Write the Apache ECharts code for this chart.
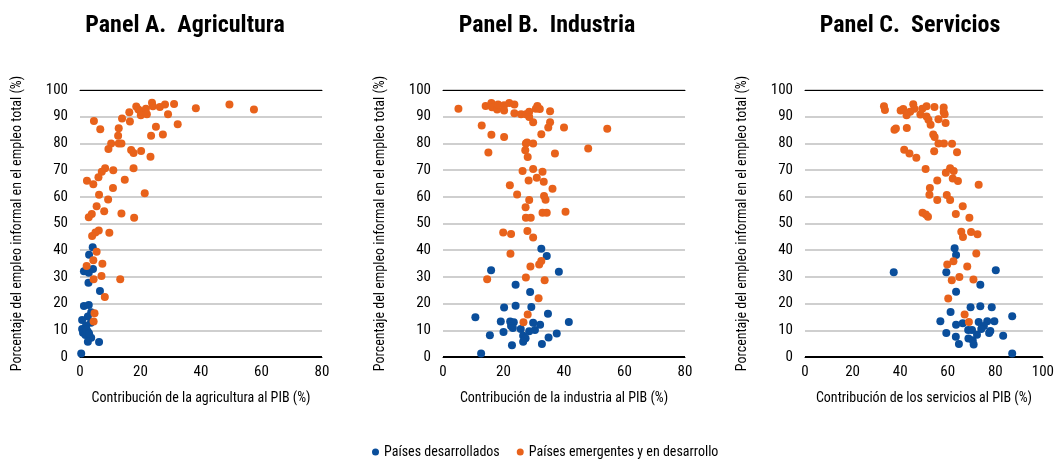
<!DOCTYPE html>
<html><head><meta charset="utf-8">
<script src="https://cdn.jsdelivr.net/npm/echarts@6/dist/echarts.min.js"></script>
<style>html,body{margin:0;padding:0;background:#fff}#c{width:1057px;height:465px}</style>
</head><body><div id="c"></div>
<script>
const panelTitles = ['Panel A.  Agricultura', 'Panel B.  Industria', 'Panel C.  Servicios'];
const xNames = ['Contribución de la agricultura al PIB (%)', 'Contribución de la industria al PIB (%)', 'Contribución de los servicios al PIB (%)'];
const yName = 'Porcentaje del empleo informal en el empleo total (%)';
const seriesNames = ['Países desarrollados', 'Países emergentes y en desarrollo'];
const xMax = [80, 80, 100];

const agriDev = [[4.2,41.1],[3.0,38.3],[1.3,32.1],[2.9,31.6],[4.3,33.0],[2.8,27.8],[6.6,24.7],[1.3,19.1],[2.9,19.5],[3.7,16.8],[2.6,15.2],[0.7,13.9],[3.6,12.8],[2.0,11.8],[0.7,10.5],[1.0,9.1],[2.6,9.5],[1.8,8.2],[3.7,7.2],[2.6,5.7],[6.3,5.6],[0.4,1.3],[2.2,10.2],[3.0,8.8]];
const agriEme = [[4.6,88.4],[6.7,85.3],[13.9,89.3],[16.5,88.2],[16.3,91.7],[18.6,93.8],[19.3,92.7],[20.1,92.0],[20.1,90.5],[21.8,93.0],[22.1,90.9],[23.8,95.2],[24.1,93.9],[26.4,93.6],[28.1,94.6],[29.1,90.9],[31.1,94.8],[32.3,87.2],[25.1,86.2],[23.5,82.9],[27.4,83.3],[38.3,93.2],[49.4,94.6],[57.5,92.7],[12.8,85.7],[12.6,82.9],[10.3,80.0],[9.4,77.9],[12.8,80.0],[13.7,80.0],[16.9,77.5],[17.7,76.4],[20.2,77.2],[23.3,75.0],[17.7,70.7],[8.3,70.7],[7.2,69.4],[11.0,69.9],[2.3,66.0],[6.1,67.3],[14.8,66.4],[4.4,64.7],[10.9,63.3],[21.4,61.3],[6.3,60.8],[9.3,59.0],[5.5,56.5],[8.0,54.6],[3.9,53.6],[2.9,52.3],[13.7,53.7],[17.9,52.2],[6.2,47.4],[5.1,46.6],[4.0,45.3],[9.7,46.5],[5.5,39.4],[4.4,36.2],[7.4,34.9],[2.2,34.1],[7.1,30.3],[4.5,29.1],[13.3,29.1],[8.2,22.5],[4.8,16.4],[4.5,13.3]];

const indDev = [[32.5,40.5],[34.3,37.8],[15.9,32.5],[38.3,31.9],[24.0,27.1],[28.8,24.3],[24.0,19.2],[20.2,18.5],[29.2,18.7],[34.7,16.2],[10.7,14.9],[19.1,13.3],[22.2,13.3],[23.4,13.0],[29.8,12.8],[32.1,12.1],[41.6,13.1],[22.5,11.6],[23.1,10.9],[25.7,10.5],[30.4,10.1],[28.5,9.6],[20.0,9.4],[37.6,8.8],[15.5,8.1],[26.5,8.0],[27.3,7.0],[34.9,7.3],[26.5,5.7],[32.7,4.9],[22.8,4.4],[12.6,1.3]];
const indEme = [[5.1,93.0],[14.1,94.0],[16.0,95.1],[16.2,93.5],[17.9,92.7],[18.2,94.6],[20.2,94.3],[20.2,92.3],[21.9,95.1],[23.6,94.6],[23.6,91.3],[25.8,90.9],[27.4,90.9],[28.5,91.9],[28.5,89.9],[29.8,87.9],[30.7,93.0],[31.2,94.0],[32.0,92.9],[35.4,92.0],[35.4,87.9],[34.8,86.0],[40.0,86.0],[54.3,85.5],[12.8,86.7],[16.0,83.2],[20.2,82.4],[32.5,83.4],[27.4,80.0],[27.8,80.3],[29.8,80.0],[15.0,76.6],[27.2,77.4],[37.0,76.2],[28.0,74.9],[48.0,78.1],[26.3,69.7],[29.8,70.4],[32.9,69.4],[28.3,66.1],[31.0,67.1],[33.3,65.6],[22.1,64.3],[36.2,63.0],[24.5,60.9],[33.4,60.3],[33.9,58.9],[28.5,58.8],[27.3,56.1],[27.4,52.2],[29.0,52.2],[32.9,54.0],[34.3,54.0],[40.5,54.4],[19.9,46.6],[22.5,46.1],[27.9,47.2],[29.8,44.8],[22.3,38.7],[32.5,36.0],[31.8,34.6],[28.9,33.9],[14.6,29.1],[27.4,29.8],[33.6,28.7],[31.6,22.0],[28.0,15.9],[26.6,13.0]];

const servDev = [[62.9,40.7],[63.5,38.2],[37.3,31.7],[59.4,31.7],[80.2,32.5],[73.7,27.1],[63.5,24.4],[61.2,16.9],[69.6,18.6],[73.7,19.0],[78.5,18.6],[87.1,15.3],[56.9,13.4],[63.5,12.1],[66.3,12.6],[73.0,13.1],[76.6,13.4],[79.6,13.4],[75.2,11.6],[74.1,10.5],[68.6,10.1],[70.2,10.1],[77.9,9.7],[77.4,9.0],[59.4,9.0],[63.4,7.6],[68.7,6.9],[70.5,6.3],[83.3,8.0],[72.3,8.3],[64.7,4.9],[70.9,4.7],[87.1,1.3]];
const servEme = [[33.2,93.9],[33.6,92.5],[40.2,92.3],[41.3,92.9],[45.5,94.7],[46.0,93.0],[44.2,91.9],[42.7,90.5],[48.5,90.8],[49.3,93.0],[51.1,93.9],[51.1,90.1],[51.9,88.9],[52.8,87.0],[54.4,93.6],[58.3,93.4],[58.3,91.8],[58.7,90.9],[56.1,89.0],[59.1,87.6],[37.6,85.1],[38.2,85.6],[42.8,85.8],[53.9,83.3],[54.5,82.4],[56.1,80.0],[58.4,80.0],[61.8,79.9],[63.9,76.7],[54.3,77.1],[41.7,77.6],[43.9,76.2],[46.8,74.6],[50.7,70.4],[61.0,70.7],[62.5,69.7],[59.2,69.0],[55.6,66.1],[62.1,66.9],[64.3,65.9],[73.0,64.5],[52.5,63.3],[52.3,60.8],[59.6,60.7],[61.0,58.8],[55.6,58.8],[66.3,56.5],[49.4,54.0],[50.8,53.4],[51.7,52.5],[63.4,53.6],[69.1,52.2],[65.7,46.9],[69.8,46.8],[72.5,46.0],[66.4,44.9],[72.0,38.8],[59.8,34.6],[62.4,35.9],[68.2,33.9],[61.7,28.7],[64.9,30.0],[70.8,29.0],[60.2,21.9],[67.1,15.9],[68.9,13.1]];

const devData = [agriDev, indDev, servDev];
const emeData = [agriEme, indEme, servEme];

const FONT = '"Roboto Condensed", "DejaVu Sans Condensed", sans-serif';
const BLUE = '#0a4e9b', ORANGE = '#e8621b';
const lefts = [80, 443, 805];
const titleCenters = [180, 542, 905];
const gridColors = ['#000'].concat(Array(10).fill('#cfcfcf'));

const grids = [], xAxes = [], yAxes = [], series = [], titles = [];
for (let i = 0; i < 3; i++) {
  grids.push({left: lefts[i], top: 90, width: 242, height: 267});
  titles.push({text: panelTitles[i], left: titleCenters[i], top: 9, textAlign: 'center',
    textStyle: {fontFamily: FONT, fontWeight: 'bold', fontSize: 24, color: '#000'}});
  xAxes.push({type: 'value', gridIndex: i, min: 0, max: xMax[i], interval: 20,
    name: xNames[i], nameLocation: 'middle', nameGap: 34,
    nameTextStyle: {fontFamily: FONT, fontSize: 14, color: '#000'},
    axisLine: {show: true, lineStyle: {color: '#000', width: 1}}, axisTick: {show: false},
    axisLabel: {fontFamily: FONT, fontSize: 15, color: '#000', margin: 8},
    splitLine: {show: false}});
  xAxes.push({type: 'value', gridIndex: i, min: 0, max: xMax[i], position: 'top',
    axisLine: {show: true, onZero: false, lineStyle: {color: '#000', width: 1}}, axisTick: {show: false},
    axisLabel: {show: false}, splitLine: {show: false}});
  yAxes.push({type: 'value', gridIndex: i, min: 0, max: 100, interval: 10,
    name: yName, nameLocation: 'middle', nameGap: 56, nameRotate: 90,
    nameTextStyle: {fontFamily: FONT, fontSize: 14, color: '#000'},
    axisLine: {show: false}, axisTick: {show: false},
    axisLabel: {fontFamily: FONT, fontSize: 15, color: '#000', margin: 12},
    splitLine: {show: true, lineStyle: {color: gridColors, width: 2}}});
  series.push({name: seriesNames[0], type: 'scatter', xAxisIndex: 2*i, yAxisIndex: i,
    data: devData[i], symbolSize: 8, itemStyle: {color: BLUE, opacity: 1}, z: 3});
  series.push({name: seriesNames[1], type: 'scatter', xAxisIndex: 2*i, yAxisIndex: i,
    data: emeData[i], symbolSize: 8, itemStyle: {color: ORANGE, opacity: 1}, z: 3});
}

const chart = echarts.init(document.getElementById('c'), null, {renderer: 'canvas'});
chart.setOption({
  animation: false,
  title: titles,
  grid: grids, xAxis: xAxes, yAxis: yAxes, series: series,
  legend: {data: seriesNames, bottom: 1, left: 367, icon: 'circle', itemWidth: 7, itemHeight: 7, itemGap: 17,
    itemStyle: {opacity: 1},
    textStyle: {fontFamily: FONT, fontSize: 14, color: '#000'}}
});
</script></body></html>
